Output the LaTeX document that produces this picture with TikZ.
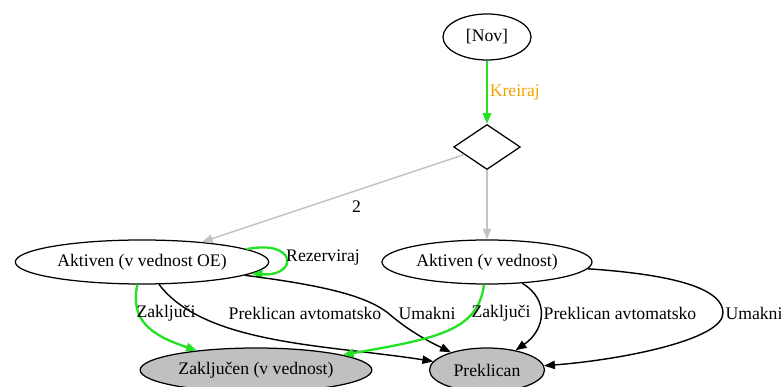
\documentclass[tikz,border=0pt]{standalone}
\usepackage{fontspec}
\setmainfont{Liberation Serif}
\usepackage{tikz}
\usetikzlibrary{arrows.meta, shapes, positioning, calc}

\definecolor{trgreen}{RGB}{35,225,35}
\definecolor{trorange}{RGB}{240,165,0}
\definecolor{trgray}{RGB}{192,192,192}
\definecolor{trlight}{RGB}{195,195,195}

\begin{document}
\begin{tikzpicture}[x=0.6pt, y=-0.6pt,
  every node/.style={font=\fontsize{10.6}{12}\selectfont},
  state/.style={draw, ellipse, line width=0.75pt, inner sep=0pt, minimum height=26.4pt},
  final/.style={state, fill=trgray},
  choice/.style={draw, diamond, line width=0.75pt, inner sep=0pt, minimum width=40pt, minimum height=27pt},
  tip/.style={-{Triangle[length=6.5pt,width=5pt]}},
  greenedge/.style={tip, draw=trgreen, line width=1.4pt},
  grayedge/.style={tip, draw=trlight, line width=0.9pt},
  blackedge/.style={tip, draw=black, line width=0.85pt},
  lbl/.style={inner sep=1pt}]
\useasboundingbox (0,0) rectangle (781,387);

\node[state, minimum width=52.8pt, minimum height=27.6pt] (nov) at (487,37) {[Nov]};
\node[choice] (dec) at (487,147) {};
\node[state, minimum width=152pt] (oe) at (142,262) {Aktiven (v vednost OE)};
\node[state, minimum width=126pt] (akt) at (487,262) {Aktiven (v vednost)};
\node[final, minimum width=139pt] (zak) at (256,370) {Zaklju\v{c}en (v vednost)};
\node[final, minimum width=69pt] (prek) at (487,370) {Preklican};

\draw[greenedge] (nov) -- node[lbl, right, text=trorange] {Kreiraj} (dec);
\draw[grayedge] (dec) -- node[lbl, pos=0.41, below=5pt] {2} (oe);
\draw[grayedge] (dec) -- (akt);

% Aktiven (v vednost OE)
\draw[greenedge] (oe.7) .. controls (298,239) and (298,277) .. (oe.-6);
\node[lbl] (lrez) at (323,258) {Rezerviraj};
\draw[greenedge] (oe) .. controls (130,320) and (150,335) .. (zak);
\node[lbl] (lzak1) at (166,313) {Zaklju\v{c}i};
\draw[blackedge] (oe) .. controls (205,345) and (330,345) .. (prek);
\node[lbl] (lpa1) at (305,313) {Preklican avtomatsko};
\draw[blackedge] (oe) .. controls (320,285) and (365,295) .. (388,313)
  .. controls (410,332) and (430,342) .. (prek);
\node[lbl] (lum1) at (427,313) {Umakni};

% Aktiven (v vednost)
\draw[greenedge] (akt) .. controls (478,330) and (440,338) .. (zak);
\node[lbl] (lzak2) at (501,313) {Zaklju\v{c}i};
\draw[blackedge] (akt) .. controls (550,300) and (545,330) .. (prek);
\node[lbl] (lpa2) at (620,313) {Preklican avtomatsko};
\draw[blackedge] (akt) .. controls (680,275) and (723,290) .. (723,313)
  .. controls (723,340) and (620,360) .. (prek);
\node[lbl] (lum2) at (754,313) {Umakni};

%\draw[step=10,color=gray] (0,0) grid (781,387);
\end{tikzpicture}
\end{document}
